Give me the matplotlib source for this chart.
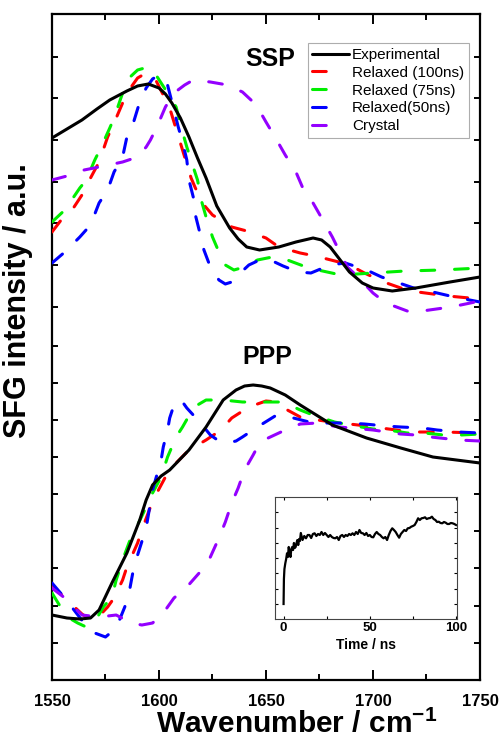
import numpy as np
import matplotlib
matplotlib.use('Agg')
import matplotlib.pyplot as plt

plt.rcParams['font.family'] = ['Liberation Sans', 'DejaVu Sans']
plt.rcParams['mathtext.fontset'] = 'custom'
plt.rcParams['mathtext.rm'] = 'Liberation Sans'
plt.rcParams['mathtext.bf'] = 'Liberation Sans:bold'

# ---- SSP spectra (wavenumber, intensity a.u.) ----
exp_ssp_x = [1550, 1557, 1564, 1571, 1577, 1585, 1590, 1595, 1600, 1603, 1606, 1610, 1614, 1618, 1622,
             1627, 1633, 1637, 1641, 1647, 1656, 1664, 1672, 1676, 1680, 1689, 1695, 1700, 1709, 1720,
             1736, 1750]
exp_ssp_y = [542, 551, 560, 571, 580, 589, 594, 596, 592, 586, 577, 562, 543, 522, 502,
             474, 452, 441, 433, 430, 433, 438, 442, 440, 433, 408, 397, 392, 389, 392,
             398, 403]

r100_ssp_x = [1550, 1555, 1560, 1564, 1568, 1572, 1576, 1579, 1583, 1586, 1590, 1594, 1598, 1602, 1605,
              1610, 1615, 1617, 1621, 1625, 1634, 1641, 1650, 1656, 1666, 1673, 1684, 1689, 1696, 1705,
              1713, 1721, 1735, 1750]
r100_ssp_y = [448, 462, 472, 485, 502, 518, 543, 557, 577, 590, 602, 607, 602, 585, 572,
              537, 502, 492, 475, 465, 453, 449, 442, 433, 427, 424, 418, 415, 407, 398,
              392, 388, 384, 381]

r75_ssp_x = [1550, 1556, 1563, 1566, 1570, 1573, 1577, 1579, 1583, 1586, 1590, 1595, 1598, 1604, 1608,
             1611, 1613, 1616, 1618, 1620, 1622, 1625, 1628, 1631, 1635, 1640, 1646, 1653, 1660, 1665,
             1670, 1685, 1700, 1715, 1732, 1750]
r75_ssp_y = [458, 470, 492, 500, 520, 533, 552, 562, 587, 602, 610, 613, 607, 587, 573,
             548, 533, 513, 500, 478, 463, 443, 428, 415, 410, 413, 420, 423, 420, 416,
             412, 405, 407, 409, 410, 412]

r50_ssp_x = [1550, 1556, 1563, 1568, 1572, 1576, 1579, 1583, 1585, 1588, 1591, 1594, 1597, 1600, 1604,
             1607, 1609, 1611, 1613, 1614, 1616, 1617, 1619, 1621, 1624, 1628, 1631, 1634, 1637, 1642,
             1647, 1652, 1658, 1665, 1671, 1680, 1687, 1697, 1704, 1719, 1726, 1738, 1750]
r50_ssp_y = [417, 428, 443, 455, 477, 490, 508, 523, 543, 557, 578, 592, 601, 605, 595,
             570, 553, 538, 520, 500, 483, 465, 448, 430, 413, 400, 396, 398, 405, 415,
             420, 420, 414, 408, 407, 415, 417, 410, 403, 392, 389, 383, 378]

cry_ssp_x = [1550, 1557, 1565, 1572, 1583, 1590, 1594, 1596, 1599, 1603, 1607, 1612, 1616, 1624, 1632,
             1639, 1643, 1646, 1650, 1655, 1659, 1664, 1667, 1672, 1676, 1681, 1684, 1688, 1693, 1700,
             1706, 1716, 1723, 1733, 1741, 1750]
cry_ssp_y = [500, 504, 510, 513, 518, 523, 533, 540, 553, 573, 587, 595, 600, 598, 595,
             588, 580, 573, 558, 540, 525, 508, 493, 477, 462, 443, 430, 413, 403, 387,
             377, 369, 369, 372, 375, 379]

# ---- PPP spectra ----
exp_ppp_x = [1550, 1557, 1563, 1568, 1572, 1578, 1585, 1591, 1594, 1597, 1601, 1605, 1614, 1622, 1630,
             1636, 1640, 1644, 1648, 1652, 1659, 1666, 1681, 1697, 1713, 1728, 1750]
exp_ppp_y = [65, 62, 61, 62, 70, 97, 127, 160, 180, 195, 204, 210, 230, 253, 280,
             290, 294, 295, 294, 292, 285, 275, 255, 242, 232, 223, 217]

r100_ppp_x = [1550, 1555, 1560, 1564, 1568, 1572, 1576, 1579, 1583, 1585, 1590, 1592, 1596, 1599, 1604,
              1608, 1614, 1622, 1629, 1634, 1642, 1650, 1655, 1660, 1666, 1674, 1681, 1693, 1700, 1711,
              1717, 1733, 1750]
r100_ppp_y = [95, 84, 74, 66, 60, 64, 73, 82, 100, 113, 137, 150, 173, 187, 207,
              217, 230, 240, 250, 262, 273, 279, 278, 270, 263, 260, 258, 255, 253, 250,
              248, 248, 247]

r75_ppp_x = [1550, 1554, 1558, 1562, 1566, 1571, 1574, 1578, 1580, 1583, 1587, 1590, 1594, 1597, 1601,
             1604, 1608, 1611, 1615, 1618, 1622, 1630, 1639, 1648, 1658, 1666, 1672, 1682, 1689, 1700,
             1707, 1716, 1724, 1733, 1741, 1750]
r75_ppp_y = [87, 73, 62, 57, 53, 62, 73, 83, 100, 120, 143, 155, 173, 187, 203,
             223, 243, 253, 268, 275, 280, 280, 278, 278, 278, 270, 265, 258, 255, 251,
             250, 247, 247, 245, 245, 246]

r50_ppp_x = [1550, 1556, 1561, 1565, 1570, 1575, 1580, 1584, 1586, 1588, 1590, 1594, 1597, 1601, 1602,
             1604, 1605, 1607, 1609, 1611, 1613, 1619, 1624, 1628, 1632, 1636, 1639, 1646, 1655, 1661,
             1672, 1679, 1688, 1696, 1706, 1713, 1723, 1730, 1740, 1750]
r50_ppp_y = [97, 82, 68, 57, 47, 43, 52, 73, 87, 110, 125, 152, 190, 220, 233,
             250, 262, 275, 280, 278, 272, 258, 245, 239, 237, 239, 243, 253, 265, 263,
             257, 257, 257, 256, 254, 253, 252, 250, 248, 247]

cry_ppp_x = [1550, 1556, 1564, 1572, 1580, 1587, 1592, 1597, 1602, 1607, 1613, 1620, 1624, 1628, 1631,
             1634, 1637, 1640, 1644, 1646, 1649, 1657, 1666, 1674, 1684, 1690, 1700, 1713, 1720, 1727,
             1740, 1750]
cry_ppp_y = [92, 82, 65, 63, 65, 57, 55, 57, 67, 82, 93, 110, 123, 142, 158,
             177, 192, 210, 225, 233, 240, 248, 256, 257, 253, 252, 250, 246, 245, 243,
             240, 239]

# ---- inset: trace vs time ----
time_ns = [0, 0.2, 0.5, 1, 1.5, 2, 2.5, 3, 3.5, 4, 4.5, 5, 5.5, 6, 6.5, 7, 7.5, 8, 8.5, 9, 9.5,
           10, 11, 12, 13, 14, 15, 16, 17, 18, 19, 20, 21, 22, 23, 24, 25, 26, 27, 28, 29, 30,
           31, 32, 33, 34, 35, 36, 37, 38, 39, 40, 41, 42, 43, 44, 45, 46, 47, 48, 49, 50,
           51, 52, 53, 54, 55, 56, 57, 58, 59, 60, 61, 62, 63, 64, 65, 66, 67, 68, 69, 70,
           71, 72, 73, 74, 75, 76, 77, 78, 79, 80, 81, 82, 83, 84, 85, 86, 87, 88, 89, 90,
           91, 92, 93, 94, 95, 96, 97, 98, 99, 100]
trace = [15, 40, 50, 55.7, 60, 65.7, 62, 72, 66, 62, 70, 72, 69, 76, 71, 72, 76, 79, 74, 80, 78,
         86, 79, 83, 80.7, 84, 84, 81, 85, 85.7, 83, 85, 84, 87, 84, 86, 84, 82, 84, 82, 81, 80.7,
         82, 79, 83, 84, 82, 84, 83, 85, 84, 85.7, 84, 87, 85, 89, 86, 85.7, 84, 86, 83, 84,
         82, 81.7, 85, 87, 85, 84, 82, 80.7, 82, 79, 84, 88, 90.7, 89, 87, 84, 81.3, 85, 87, 89,
         88, 90.7, 91, 92.3, 93, 94, 97, 100.7, 99, 100.7, 101, 101.7, 100, 100.7, 101, 102.3, 100, 99, 97, 97.3,
         96, 95.7, 97, 96.3, 95, 95, 96, 95.7, 95, 94]

ssp = [(exp_ssp_x, exp_ssp_y), (r100_ssp_x, r100_ssp_y), (r75_ssp_x, r75_ssp_y),
       (r50_ssp_x, r50_ssp_y), (cry_ssp_x, cry_ssp_y)]
ppp = [(exp_ppp_x, exp_ppp_y), (r100_ppp_x, r100_ppp_y), (r75_ppp_x, r75_ppp_y),
       (r50_ppp_x, r50_ppp_y), (cry_ppp_x, cry_ppp_y)]
labels = ['Experimental', 'Relaxed (100ns)', 'Relaxed (75ns)', 'Relaxed(50ns)', 'Crystal']
colors = ['black', '#FF0000', '#00EE00', '#0000FF', '#9400FF']

fig = plt.figure(figsize=(4.99, 7.44), dpi=100)
ax = fig.add_axes([0.1042, 0.086, 0.8577, 0.8952])

lw = 2.2
for i in range(5):
    for j, (xs, ys) in enumerate([ssp[i], ppp[i]]):
        kw = dict(color=colors[i], lw=lw, label=labels[i] if j == 0 else None)
        if i == 0:
            ax.plot(xs, ys, zorder=5, solid_capstyle='round', solid_joinstyle='round', **kw)
        else:
            ax.plot(xs, ys, linestyle=(0, (4.5, 6.5)), dash_capstyle='round',
                    dash_joinstyle='round', zorder=3 + i * 0.1, **kw)

ax.set_xlim(1550, 1750)
ax.set_ylim(0, 666)
ax.set_xticks([1550, 1600, 1650, 1700, 1750])
ax.set_xticks([1575, 1625, 1675, 1725], minor=True)
ax.set_yticks([37, 74, 112, 149, 186, 223, 260, 297, 334, 373, 415, 457, 498, 540, 582, 623])
ax.tick_params(axis='y', which='both', direction='in', left=True, right=True, labelleft=False,
               length=4.5, width=1.4)
ax.tick_params(axis='x', which='major', direction='in', top=True, bottom=True, length=7.5, width=1.4,
               labelsize=12, pad=10)
ax.tick_params(axis='x', which='minor', direction='in', top=True, bottom=True, length=4.5, width=1.4)
for lab in ax.get_xticklabels():
    lab.set_fontweight('bold')
for s in ax.spines.values():
    s.set_linewidth(1.6)

ax.set_xlabel(r'Wavenumber / cm$^{\mathbf{-1}}$', fontsize=21.5, fontweight='bold')
ax.xaxis.set_label_coords(0.572, -0.043)
ax.set_ylabel('SFG intensity / a.u.', fontsize=22, fontweight='bold')
ax.yaxis.set_label_coords(-0.045, 0.57)

ax.text(0.509, 0.932, 'SSP', transform=ax.transAxes, fontsize=18, fontweight='bold',
        ha='center', va='center')
ax.text(0.502, 0.485, 'PPP', transform=ax.transAxes, fontsize=18, fontweight='bold',
        ha='center', va='center')

leg = ax.legend(loc='upper right', bbox_to_anchor=(0.974, 0.956), borderaxespad=0, fontsize=11,
                handlelength=2.4, handletextpad=0.2, labelspacing=0.25, borderpad=0.3,
                fancybox=False, frameon=True, edgecolor='#999999')
leg.get_frame().set_linewidth(0.8)
# dashed handles show just one dash, as in the original legend
for h in leg.get_lines()[1:]:
    h.set_linestyle((0, (4.5, 20)))

# inset
axin = fig.add_axes([0.551, 0.168, 0.365, 0.164])
axin.plot(time_ns, trace, color='black', lw=1.6)
axin.set_xlim(-5, 100.6)
axin.set_ylim(0, 122)
axin.set_xticks([0, 50, 100])
axin.set_xticks([25, 75], minor=True)
axin.set_yticks([15, 30, 46, 61, 76, 91, 107])
axin.tick_params(axis='both', which='both', direction='in', top=True, right=True, length=2.5, width=0.8,
                 labelleft=False, labelsize=9.5, pad=2)
for lab in axin.get_xticklabels():
    lab.set_fontweight('bold')
for s in axin.spines.values():
    s.set_linewidth(0.8)
    s.set_color('#444444')
axin.set_xlabel('Time / ns', fontsize=10, fontweight='bold', labelpad=3)

fig.savefig('out.png', dpi=100)
